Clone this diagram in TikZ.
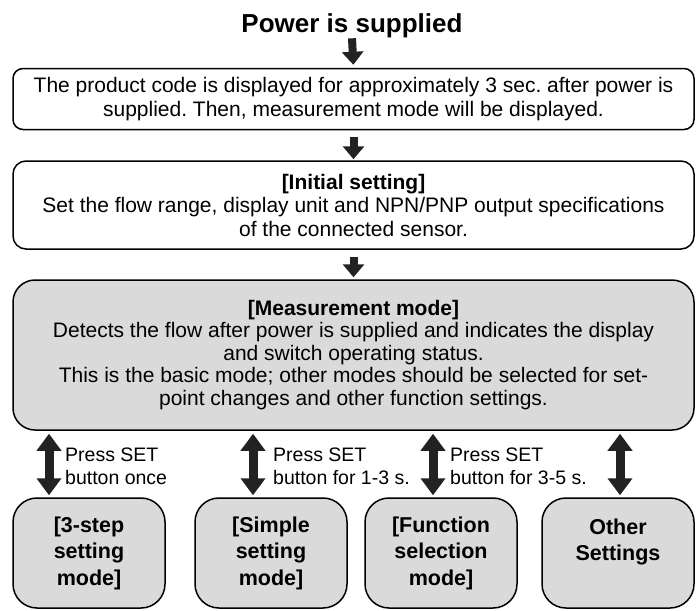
\documentclass[tikz,border=0pt]{standalone}
\usepackage{fontspec}
\setmainfont{Liberation Sans}
\usetikzlibrary{arrows.meta}
\frenchspacing
\definecolor{boxgray}{HTML}{DADADA}
\definecolor{arrowdark}{HTML}{222222}
\tikzset{
  box/.style={draw=black, line width=1.5pt, align=center, inner sep=2pt},
  graybox/.style={box, fill=boxgray},
  bottombox/.style={graybox, rounded corners=24pt, minimum width=152pt, minimum height=110pt, font=\fontsize{21.5}{26.5}\selectfont\bfseries},
  bodytext/.style={font=\fontsize{21}{23.5}\selectfont},
  bigarrow/.style={draw=arrowdark, line width=8pt, -{Triangle[length=13pt,width=21pt]}},
  dblarrow/.style={draw=arrowdark, line width=9pt, {Triangle[length=17pt,width=24pt]}-{Triangle[length=17pt,width=24pt]}},
  lbl/.style={font=\fontsize{19.5}{23}\selectfont, align=left, anchor=west, inner sep=0pt},
}
\begin{document}
\begin{tikzpicture}[x=1pt,y=-1pt]
\useasboundingbox (0,0) rectangle (700,610);
\node[font=\fontsize{26}{30}\selectfont\bfseries, inner sep=0pt] (title) at (352,26) {Power is supplied};
\node[box, bodytext, rounded corners=10pt, minimum width=681pt, minimum height=61pt] (b1) at (353.5,99)
  {The product code is displayed for approximately 3 sec. after power is\\supplied. Then, measurement mode will be displayed.};
\node[box, bodytext, rounded corners=13pt, minimum width=681pt, minimum height=88pt] (b2) at (353.5,205)
  {\textbf{[Initial setting]}\\Set the flow range, display unit and NPN/PNP output specifications\\of the connected sensor.};
\node[graybox, rounded corners=22pt, font=\fontsize{21}{22.5}\selectfont, minimum width=681pt, minimum height=150pt] (b3) at (353.5,355)
  {\textbf{[Measurement mode]}\\Detects the flow after power is supplied and indicates the display\\and switch operating status.\\This is the basic mode; other modes should be selected for set-\\point changes and other function settings.};
\node[bottombox] (m1) at (89,553) {[3-step\\setting\\mode]};
\node[bottombox] (m2) at (271,553) {[Simple\\setting\\mode]};
\node[bottombox] (m3) at (441,553) {[Function\\selection\\mode]};
\node[bottombox] (m4) at (618,553) {Other\\Settings\\\mbox{}};
\draw[bigarrow, shorten >=3pt] (title.south) -- (b1.north);
\draw[bigarrow, shorten <=7pt, shorten >=1pt] (b1.south) -- (b2.north);
\draw[bigarrow, shorten <=7pt, shorten >=2pt] (b2.south) -- (b3.north);
\draw[dblarrow, shorten <=3pt, shorten >=2pt] (b3.south -| 49,0) -- (m1.north -| 49,0);
\draw[dblarrow, shorten <=3pt, shorten >=2pt] (b3.south -| 253,0) -- (m2.north -| 253,0);
\draw[dblarrow, shorten <=3pt, shorten >=2pt] (b3.south -| 433,0) -- (m3.north -| 433,0);
\draw[dblarrow, shorten <=3pt, shorten >=2pt] (b3.south -| 620,0) -- (m4.north -| 620,0);
\node[lbl] (l1) at (65,466) {Press SET\\button once};
\node[lbl] (l2) at (273,466) {Press SET\\button for 1-3 s.};
\node[lbl] (l3) at (450,466) {Press SET\\button for 3-5 s.};
\end{tikzpicture}
\end{document}
